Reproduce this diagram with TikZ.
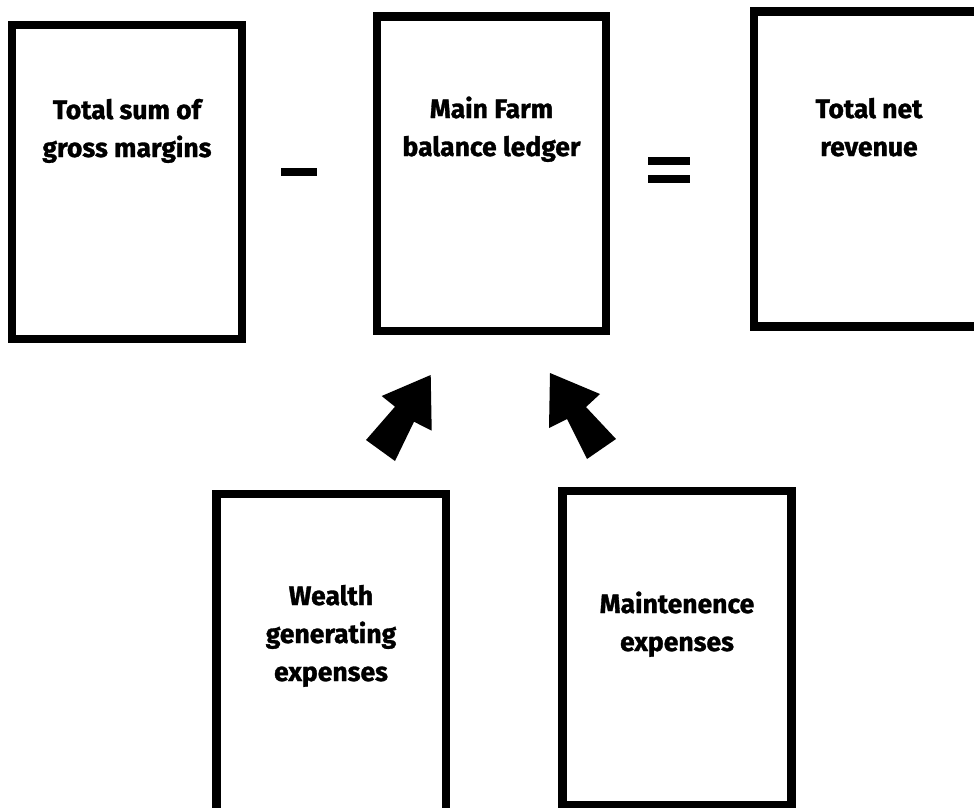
\documentclass[tikz,border=0pt]{standalone}
\usepackage{fontspec}
\setmainfont{Fira Sans}[BoldFeatures={FakeBold=1.2}]
\begin{document}
\begin{tikzpicture}[x=1pt,y=-1pt,
  box/.style={draw=black,line width=8.5pt,fill=white},
  lbl/.style={anchor=base,align=center,inner sep=0pt,font=\bfseries\fontsize{26.5}{38}\selectfont},
  blockarrow/.style={fill=black,draw=none},
  opbar/.style={fill=black,draw=none}]
\useasboundingbox (0,0) rectangle (974,807);
\clip (0,0) rectangle (974,807);
% boxes
\draw[box] (12,25) rectangle (242,339) coordinate (b1);
\draw[box] (377,16.5) rectangle (606,331) coordinate (b2);
\draw[box] (754,11.7) rectangle (984,326.7) coordinate (b3);
\draw[box] (216.5,494) rectangle (446,812) coordinate (b4);
\draw[box] (562.5,491) rectangle (791.5,805) coordinate (b5);
% labels (anchor = baseline of last line)
\node[lbl] (t1) at (127,157) {Total sum of\\gross margins};
\node[lbl] (t2) at (491.5,156) {Main Farm\\balance ledger};
\node[lbl] (t3) at (869,156) {Total net\\revenue};
\node[lbl] (t4) at (331,681) {Wealth\\generating\\expenses};
\node[lbl] (t5) at (677,651) {Maintenence\\expenses};
% operators
\fill[opbar] (281,168) rectangle (317,176);
\fill[opbar] (648,157) rectangle (690,165);
\fill[opbar] (648,175) rectangle (690,183);
% block arrows
\fill[blockarrow] (430.7,375) -- (381.7,396) -- (395,406.7) -- (366,440) -- (395,461)
  -- (414,421.7) -- (431.7,430.7) -- cycle;
\fill[blockarrow] (550,373) -- (600,394) -- (586,407) -- (616,439) -- (587,459)
  -- (567,419) -- (549,428) -- cycle;
\end{tikzpicture}
\end{document}
